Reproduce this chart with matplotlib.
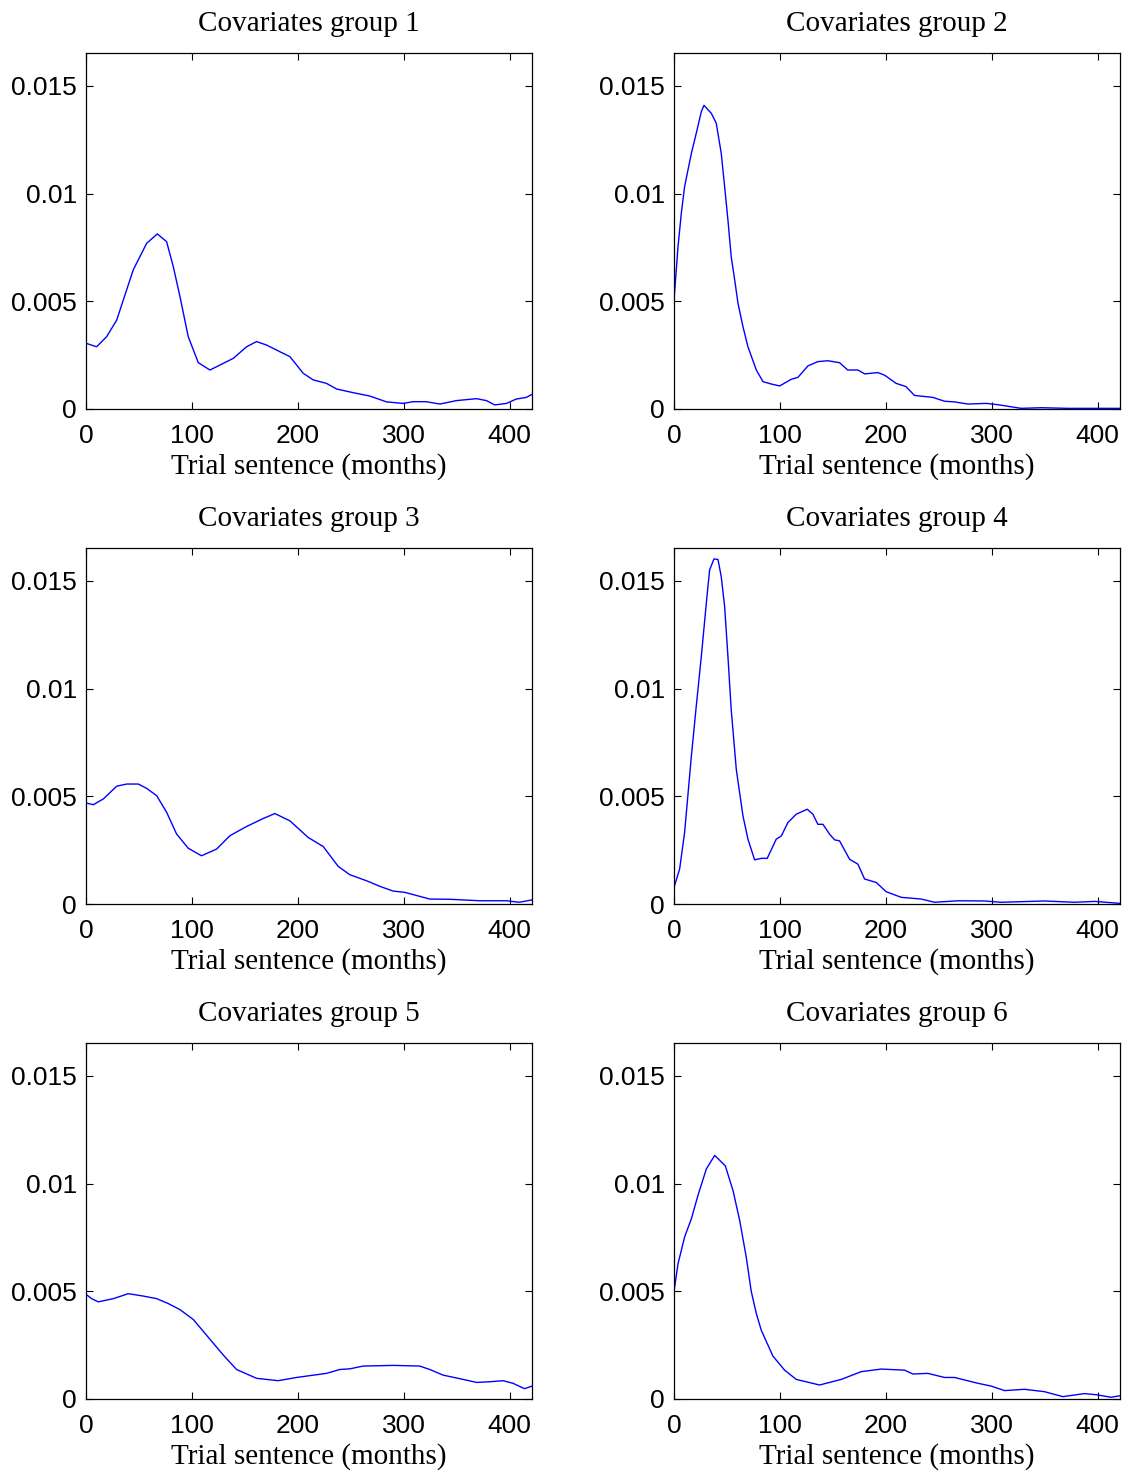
import numpy as np
from matplotlib import pyplot as plt

# Kernel density estimates of trial sentence, one per covariates group
x1 = [0, 10, 19.5, 29, 35.2, 44.6, 57.2, 67.3, 76.1, 82.4, 88.7, 96.5, 106, 117, 139, 151.6, 161, 170.4, 183,
      192.5, 205, 214.5, 227, 236.5, 252, 268, 283.7, 299.4, 308.8, 321, 334, 349.7, 368.6, 378, 385.8, 397, 406,
      415.7, 421]
y1 = [0.00305, 0.00289, 0.00336, 0.00413, 0.00506, 0.00646, 0.00769, 0.00813, 0.00777, 0.00661, 0.00522, 0.00336,
      0.00215, 0.00181, 0.00235, 0.00289, 0.00313, 0.00297, 0.00266, 0.00243, 0.00166, 0.00135, 0.00119, 0.00093,
      0.00076, 0.0006, 0.00033, 0.00026, 0.00034, 0.00034, 0.00023, 0.00039, 0.00048, 0.00039, 0.00019, 0.00026,
      0.00046, 0.00054, 0.00068]

x2 = [0, 3.8, 6.9, 10, 13.2, 16.4, 21, 25.8, 28.3, 35.2, 39.9, 44.6, 47.8, 50.9, 54, 57.3, 60.4, 65.1, 69.8, 77.7,
      84, 91.8, 99.7, 110.7, 117, 126.4, 135.8, 145.3, 156.3, 164, 173.6, 180, 192.5, 198.8, 209.7, 219, 227, 244.3,
      255.4, 264.8, 277.4, 294.7, 305.7, 327.7, 346.5, 371.7, 421]
y2 = [0.00506, 0.00754, 0.00909, 0.01032, 0.0111, 0.01187, 0.0128, 0.01381, 0.0141, 0.01373, 0.01327, 0.01187,
      0.01032, 0.00878, 0.00707, 0.00599, 0.00491, 0.00382, 0.00289, 0.00181, 0.00127, 0.00116, 0.00107, 0.00138,
      0.00147, 0.002, 0.0022, 0.00224, 0.00215, 0.00181, 0.00181, 0.00163, 0.00169, 0.00157, 0.00119, 0.00104,
      0.00063, 0.00054, 0.00036, 0.00033, 0.00023, 0.00026, 0.0002, 0.00003, 0.00006, 0.00003, 0.00003]

x3 = [0, 6.9, 16.4, 29, 38.4, 49.4, 57.2, 66.7, 76.1, 85.5, 96.5, 109, 123.3, 135.8, 151.6, 167.3, 178.3, 192.5,
      209.7, 223.9, 238, 249, 264.8, 277.4, 289.9, 301, 324.5, 343.4, 371.7, 397, 409, 421]
y3 = [0.00469, 0.00461, 0.00488, 0.00547, 0.00557, 0.00557, 0.00537, 0.00503, 0.00426, 0.00325, 0.00259, 0.00224,
      0.00255, 0.00317, 0.0036, 0.00397, 0.0042, 0.00386, 0.00309, 0.00267, 0.00175, 0.00136, 0.00108, 0.00082,
      0.0006, 0.00054, 0.00023, 0.00022, 0.00015, 0.00015, 0.00008, 0.00019]

x4 = [0, 5.3, 10, 16.4, 21, 25.8, 30.5, 33.6, 37.7, 41.5, 44.6, 47.8, 50.9, 54, 58.8, 65.1, 69.8, 76.1, 82.4, 88,
      96.5, 101.3, 107.5, 115.4, 125.8, 131.1, 135.8, 140.6, 146.9, 151.6, 156.3, 165.7, 173.6, 179.9, 190.9, 200.3,
      214.5, 233.3, 246, 268, 293, 308.8, 349.7, 378, 397, 421]
y4 = [0.00077, 0.00162, 0.00332, 0.00687, 0.00918, 0.0115, 0.01397, 0.01551, 0.01602, 0.016, 0.0152, 0.01381,
      0.0115, 0.00903, 0.00625, 0.00409, 0.00301, 0.00205, 0.00212, 0.00212, 0.00301, 0.00316, 0.00378, 0.00417,
      0.0044, 0.00417, 0.0037, 0.0037, 0.00324, 0.00298, 0.00293, 0.00208, 0.00185, 0.00116, 0.001, 0.00057,
      0.00031, 0.00023, 0.00008, 0.00015, 0.00014, 0.00008, 0.00014, 0.00008, 0.00012, 0.00003]

x5 = [0, 5.3, 11.6, 25.8, 39.9, 54, 66.7, 77.7, 88.7, 101.3, 113.8, 129.6, 142.1, 161, 181.4, 198.8, 227, 239.6,
      249, 261.6, 290, 315, 324.5, 337, 356, 368.6, 381, 393.7, 403, 414, 421]
y5 = [0.00486, 0.00466, 0.00451, 0.00466, 0.00489, 0.00478, 0.00466, 0.00443, 0.00415, 0.00369, 0.00296, 0.00204,
      0.00137, 0.00096, 0.00085, 0.001, 0.00119, 0.00137, 0.0014, 0.00153, 0.00156, 0.00153, 0.00137, 0.00111,
      0.00091, 0.00077, 0.0008, 0.00085, 0.00073, 0.00048, 0.0006]

x6 = [0, 3.8, 10, 16.4, 22.6, 30.5, 38.4, 48.4, 55.7, 62, 68.2, 72.9, 77.7, 82.4, 93.4, 104.4, 115.4, 137.4, 157.9,
      176.7, 195.6, 217.6, 225.5, 239.6, 255.4, 264.8, 286.8, 299.4, 312, 330.8, 349.7, 367, 387.4, 398.4, 412.5, 421]
y6 = [0.005, 0.00628, 0.00752, 0.00837, 0.00945, 0.01068, 0.01131, 0.01083, 0.00968, 0.00829, 0.00659, 0.005,
      0.00397, 0.00319, 0.00199, 0.00134, 0.00091, 0.00065, 0.00091, 0.00127, 0.00139, 0.00134, 0.00116, 0.00119,
      0.001, 0.001, 0.00073, 0.0006, 0.00039, 0.00045, 0.00034, 0.00011, 0.00025, 0.0002, 0.00008, 0.00015]

titles = ["Covariates group %d" % i for i in range(1, 7)]
xs = [x1, x2, x3, x4, x5, x6]
ys = [y1, y2, y3, y4, y5, y6]

xticks = [0, 100, 200, 300, 400]
yticks = [0, 0.005, 0.01, 0.015]
yticklabels = ["0", "0.005", "0.01", "0.015"]

W, H = 1127, 1474
fig = plt.figure(figsize=(W / 100, H / 100), dpi=100)

lefts = [86, 674]
tops = [53, 548, 1043]
aw, ah = 446, 356

for i in range(6):
    r, c = divmod(i, 2)
    ax = fig.add_axes([lefts[c] / W, 1 - (tops[r] + ah) / H, aw / W, ah / H])
    ax.plot(xs[i], ys[i], color="#0000ff", lw=1.0)
    ax.set_xlim(0, 421)
    ax.set_ylim(0, 0.01653)
    ax.set_xticks(xticks)
    ax.set_yticks(yticks)
    ax.set_yticklabels(yticklabels)
    ax.tick_params(direction="in", top=True, right=True, length=5, width=0.8, labelsize=19)
    ax.tick_params(axis="x", pad=10.5)
    ax.tick_params(axis="y", pad=6.5)
    for lab in ax.get_xticklabels() + ax.get_yticklabels():
        lab.set_family("Liberation Sans")
    for s in ax.spines.values():
        s.set_linewidth(0.9)
    ax.set_title(titles[i], family="Liberation Serif", fontsize=21, pad=16)
    ax.set_xlabel("Trial sentence (months)", family="Liberation Serif", fontsize=21, labelpad=4)

fig.savefig("out.png", dpi=100)
